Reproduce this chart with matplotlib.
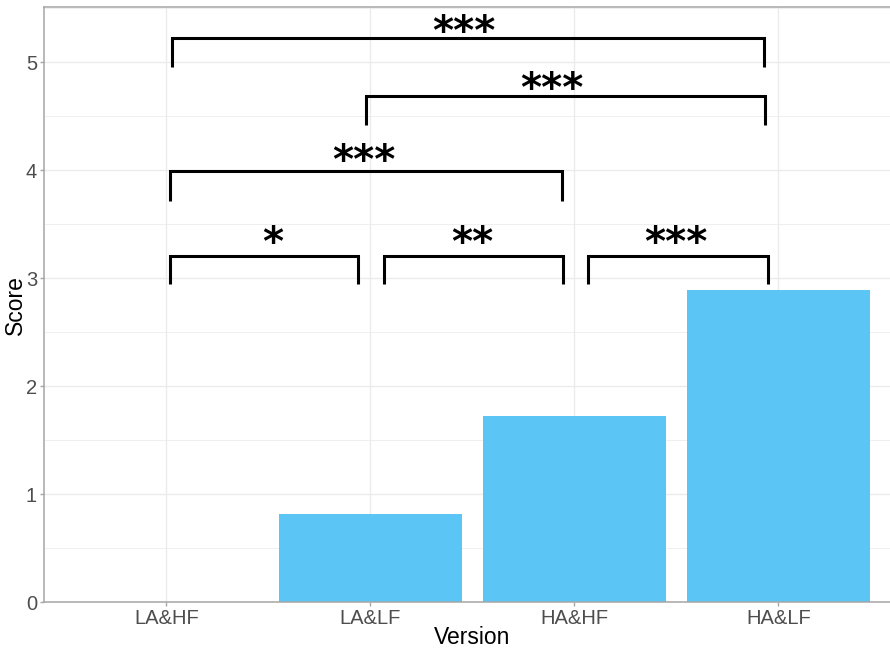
import matplotlib
matplotlib.use("Agg")
import matplotlib.pyplot as plt
from matplotlib.textpath import TextPath
from matplotlib.font_manager import FontProperties
import numpy as np

# ---- data ----
versions = ["LA&HF", "LA&LF", "HA&HF", "HA&LF"]
scores = [0.0, 0.815, 1.722, 2.889]

# brackets: x start, x end, top y, bottom y of the ticks
br_x0 = [1.016, 2.069, 3.069, 1.020, 1.977, 1.029]
br_x1 = [1.938, 2.944, 3.948, 2.938, 3.936, 3.928]
br_top = [3.204, 3.204, 3.204, 3.988, 4.685, 5.222]
br_bot = [2.944, 2.944, 2.944, 3.716, 4.414, 4.954]
# significance labels: x centre, y centre of the star glyphs
sig_text = ["*", "**", "***", "***", "***", "***"]
sig_x = [1.52, 2.50, 3.495, 1.966, 2.892, 2.456]
sig_y = [3.40, 3.40, 3.40, 4.16, 4.83, 5.36]

W, H = 890, 648
fig = plt.figure(figsize=(W / 100, H / 100), dpi=100)
left, right = 44, 900.8
bottom, top = 602, 7.3
ax = fig.add_axes([left / W, 1 - bottom / H, (right - left) / W, (bottom - top) / H])

xpos = np.arange(1, len(versions) + 1)
ax.set_xlim(0.4, 4.6)
ax.set_ylim(0, 5.507)

# grid
for y in np.arange(0.5, 5.51, 1.0):
    ax.axhline(y, color="#EBEBEB", lw=0.55, zorder=0)
for y in range(0, 6):
    ax.axhline(y, color="#EBEBEB", lw=1.0, zorder=0)
for x in xpos:
    ax.axvline(x, color="#EBEBEB", lw=1.0, zorder=0)

ax.bar(xpos, scores, width=0.9, color="#5BC5F5", zorder=2)

for x0, x1, yt, yb in zip(br_x0, br_x1, br_top, br_bot):
    ax.plot([x0, x0, x1, x1], [yb, yt, yt, yb], color="black", lw=2.2,
            solid_joinstyle="miter", solid_capstyle="butt", zorder=3)

# place the star glyph's visual centre at sig_y
fs = 29
star_prop = FontProperties(family="DejaVu Sans", weight="bold")
em_px = fs * 100 / 72
ext = TextPath((0, 0), "*", size=em_px, prop=star_prop).get_extents()
centre_px = (ext.y0 + ext.y1) / 2
px_per_unit = (bottom - top) / 5.507
for t, x, y in zip(sig_text, sig_x, sig_y):
    ax.text(x, y - centre_px / px_per_unit, t, ha="center", va="baseline",
            fontsize=fs, fontproperties=star_prop, color="black", zorder=4)

for s in ax.spines.values():
    s.set_color("#A6A6A6")
    s.set_linewidth(1.1)

ax.set_xticks(xpos)
ax.set_xticklabels(versions)
ax.set_yticks(range(0, 6))
ax.tick_params(axis="both", colors="#A6A6A6", length=3, width=1.0,
               labelcolor="#4D4D4D", labelsize=14.5)
for lab in ax.get_xticklabels() + ax.get_yticklabels():
    lab.set_family("Liberation Sans")
ax.tick_params(axis="x", pad=2)
ax.tick_params(axis="y", pad=2)

fig.text(472 / W, 1 - 637 / H, "Version", ha="center", va="center",
         fontsize=16.5, family="Liberation Sans", color="black")
fig.text(15 / W, 1 - 305 / H, "Score", ha="center", va="center", rotation=90,
         fontsize=16.5, family="Liberation Sans", color="black")

fig.savefig("out.png", dpi=100)
